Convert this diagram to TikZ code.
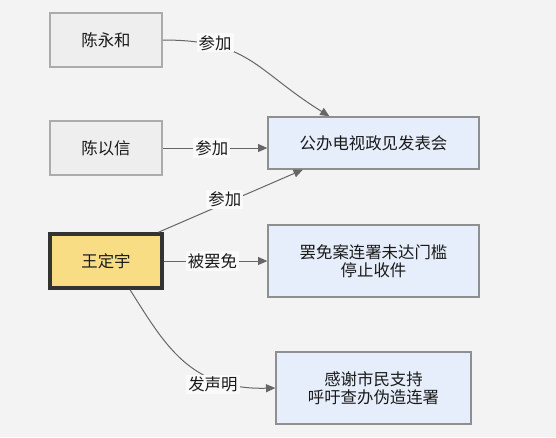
\documentclass[tikz,border=0pt]{standalone}
\usepackage{fontspec}
\setmainfont{Noto Sans CJK SC}
\usepackage{tikz}
\usetikzlibrary{positioning,arrows.meta}

\definecolor{bgcol}{HTML}{F3F3F3}
\definecolor{grayfill}{HTML}{EEEEEE}
\definecolor{grayline}{HTML}{ABABAB}
\definecolor{bluefill}{HTML}{E7EEFB}
\definecolor{blueline}{HTML}{8F8F8F}
\definecolor{yellowfill}{HTML}{F8DD84}
\definecolor{edgecol}{HTML}{666666}
\definecolor{txtcol}{HTML}{1A1A1A}

\begin{document}
\begin{tikzpicture}[x=0.75pt,y=-0.75pt]
          \tikzset{Person/.style = {draw=grayline, fill=grayfill, line width=1pt,
                   minimum width=84pt, minimum height=40.5pt, text=txtcol}}
          \tikzset{Event/.style = {draw=blueline, fill=bluefill, line width=1pt,
                   align=center, text=txtcol, font=\fontsize{12.3pt}{13.5pt}\selectfont}}
          \tikzset{EdgeStyle/.style = {draw=edgecol, line width=0.75pt,
                   -{Triangle[length=7pt,width=6pt]}}}
          \tikzset{Lbl/.style = {fill=white!55!bgcol, inner sep=1.5pt, text=txtcol}}

          \fill[bgcol] (0,0) rectangle (556,437);
          \useasboundingbox (0,0) rectangle (556,437);

          \begin{scope}[font=\fontsize{12.3pt}{13.5pt}\selectfont]
          \node[Person] (YH) at (106,40) {陈永和};
          \node[Person] (YX) at (106,148) {陈以信};
          \node[Person, fill=yellowfill, draw=black!80, line width=2.6pt] (DY) at (106,261) {王定宇};

          \node[Event, minimum width=158.25pt, minimum height=39pt] (ZJ) at (373.5,143) {公办电视政见发表会};
          \node[Event, minimum width=158.25pt, minimum height=54pt] (BM) at (373.5,261) {罢免案连署未达门槛\\停止收件};
          \node[Event, minimum width=146.25pt, minimum height=54pt] (SM) at (373.5,388) {感谢市民支持\\呼吁查办伪造连署};

          \draw[EdgeStyle] (YH.east) .. controls (250,40) and (255,70) .. ([xshift=-33pt]ZJ.north)
                node[Lbl, pos=0.25, yshift=2pt] {参加};
          \draw[EdgeStyle] (YX.east) -- (YX.east -| ZJ.west) node[Lbl, pos=0.47] {参加};
          \draw[EdgeStyle] ([xshift=-4pt]DY.north east) -- ([xshift=-53pt]ZJ.south)
                node[Lbl, pos=0.46, yshift=3pt] {参加};
          \draw[EdgeStyle] (DY.east) -- (BM.west) node[Lbl, pos=0.47] {被罢免};
          \draw[EdgeStyle] ([xshift=18pt]DY.south) .. controls (165,345) and (190,390) .. (SM.west)
                node[Lbl, pos=0.7, yshift=-5pt] {发声明};
          \end{scope}
        \end{tikzpicture}
\end{document}
